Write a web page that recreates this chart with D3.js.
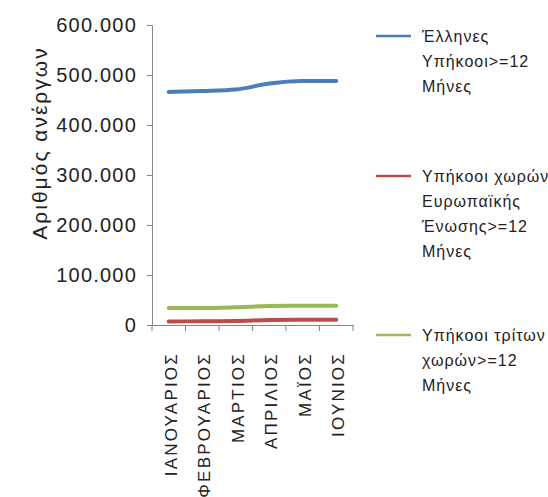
<!DOCTYPE html>
<html><head><meta charset="utf-8">
<script src="https://cdn.jsdelivr.net/npm/d3@7"></script>
<style>body{margin:0;background:#fff}svg{display:block}</style>
</head><body>
<script>
const months = ["ΙΑΝΟΥΑΡΙΟΣ","ΦΕΒΡΟΥΑΡΙΟΣ","ΜΑΡΤΙΟΣ","ΑΠΡΙΛΙΟΣ","ΜΑΪΟΣ","ΙΟΥΝΙΟΣ"];
const greeks = [466000,468000,471000,483000,488000,488000];
const euCitizens = [7000,7500,8000,10000,10500,10500];
const thirdCountry = [34000,34000,35500,38000,38500,38500];
const seriesNames = [["Έλληνες","Υπήκοοι>=12","Μήνες"],["Υπήκοοι χωρών","Ευρωπαϊκής","Ένωσης>=12","Μήνες"],["Υπήκοοι τρίτων","χωρών>=12","Μήνες"]];
const seriesColors = ["#4A7EBB","#BE4B48","#98B954"];
const yTicks = [0,100000,200000,300000,400000,500000,600000];
const series = [greeks, euCitizens, thirdCountry];

const W=548,H=497;
const svg=d3.select("body").append("svg").attr("width",W).attr("height",H);
const font="'Liberation Sans', Arial, sans-serif";
const x0=152,x1=353,yTop=25,yBot=325;
const xb=d3.scaleBand().domain(months).range([x0,x1]);
const y=d3.scaleLinear().domain([0,600000]).range([yBot,yTop]);
const fmt=v=>v===0?"0":d3.format(",")(v).replace(/,/g,".");

// y axis
const ya=svg.append("g").attr("transform",`translate(${x0},0)`)
  .call(d3.axisLeft(y).tickValues(yTicks).tickFormat(fmt).tickSize(5).tickPadding(10));
ya.select(".domain").attr("stroke","#868686");
ya.selectAll(".tick line").attr("stroke","#868686");
ya.selectAll("text").attr("font-family",font).attr("font-size",20).attr("letter-spacing",1.2).attr("fill","#222");

// x axis
const xa=svg.append("g").attr("transform",`translate(0,${yBot})`)
  .call(d3.axisBottom(xb).tickSize(0).tickFormat(""));
xa.select(".domain").attr("stroke","#868686");
const bounds=months.map(m=>xb(m)).concat([x1]);
xa.selectAll(".bline").data(bounds).enter().append("line")
  .attr("x1",d=>d).attr("x2",d=>d).attr("y1",0).attr("y2",6).attr("stroke","#868686");
xa.selectAll(".lbl").data(months).enter().append("text")
  .attr("transform",d=>`translate(${xb(d)+xb.bandwidth()/2+8},27) rotate(-90)`)
  .attr("text-anchor","end").attr("font-family",font).attr("font-size",17).attr("letter-spacing",2.2).attr("fill","#222")
  .text(d=>d);

// y title
svg.append("text").attr("transform","translate(47,143) rotate(-90)")
  .attr("text-anchor","middle").attr("font-family",font).attr("font-size",21).attr("letter-spacing",2).attr("fill","#222")
  .text("Αριθμός ανέργων");

// lines
const line=d3.line().x((d,i)=>xb(months[i])+xb.bandwidth()/2).y(d=>y(d)).curve(d3.curveMonotoneX);
series.forEach((s,k)=>{
  svg.append("path").datum(s).attr("d",line).attr("fill","none")
    .attr("stroke",seriesColors[k]).attr("stroke-width",4).attr("stroke-linecap","round");
});

// legend
const legY=[36,176,335];
seriesNames.forEach((lines,k)=>{
  const g=svg.append("g").attr("transform",`translate(376,${legY[k]})`);
  g.append("line").attr("x1",0).attr("x2",35).attr("y1",0).attr("y2",0)
    .attr("stroke",seriesColors[k]).attr("stroke-width",2.5);
  lines.forEach((t,i)=>{
    g.append("text").attr("x",46).attr("y",i*25).attr("dy","0.35em")
      .attr("font-family",font).attr("font-size",16).attr("letter-spacing",1).attr("fill","#222").text(t);
  });
});
</script>
</body></html>
